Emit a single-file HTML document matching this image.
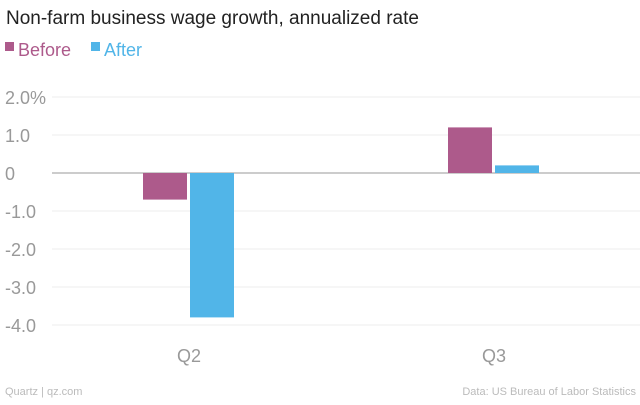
<!DOCTYPE html>
<html><head><meta charset="utf-8"><style>
body{margin:0;background:#fff;font-family:"Liberation Sans",sans-serif;}
svg text{font-family:"Liberation Sans",sans-serif;}
</style></head><body>
<svg width="640" height="400" xmlns="http://www.w3.org/2000/svg">
<text x="6" y="24" font-size="19" fill="#222">Non-farm business wage growth, annualized rate</text>
<g>
<rect x="5" y="42" width="9" height="9" fill="#ad5a8b"/>
<text x="18" y="56" font-size="18" fill="#ad5a8b">Before</text>
<rect x="91" y="42" width="9" height="9" fill="#51b5e8"/>
<text x="104" y="56" font-size="18" fill="#51b5e8">After</text>
</g>
<g id="grid"></g><g id="bars"></g><g id="xlab"></g>
<text x="5" y="395" font-size="11" fill="#bbb">Quartz | qz.com</text>
<text x="636" y="395" font-size="11" fill="#bbb" text-anchor="end">Data: US Bureau of Labor Statistics</text>
</svg>
<script>
const categories=["Q2","Q3"];
const beforeValues=[-0.7,1.2];
const afterValues=[-3.8,0.2];
const tickValues=[2,1,0,-1,-2,-3,-4];
const tickLabels=["2.0%","1.0","0","-1.0","-2.0","-3.0","-4.0"];
const NS="http://www.w3.org/2000/svg";
const y=v=>173-v*38;
const bandStart=36.5,bandW=305;
const xc=i=>bandStart+bandW*(i+0.5);
function mk(t,a,p){const e=document.createElementNS(NS,t);for(const k in a)e.setAttribute(k,a[k]);p.appendChild(e);return e;}
const g=document.getElementById('grid');
tickValues.forEach((v,i)=>{
 const l=mk('line',{x1:52,x2:640,y1:y(v),y2:y(v),stroke:v===0?'#999':'#eee','stroke-width':1},g);
 
 
 const t=mk('text',{x:5,y:y(v)+7,'font-size':18,fill:'#999'},g);
 t.textContent=tickLabels[i];
 
 
});
const b=document.getElementById('bars');
categories.forEach((c,i)=>{
 [[beforeValues[i],'#ad5a8b',-46,'bar-before-'],[afterValues[i],'#51b5e8',1,'bar-after-']].forEach(([v,col,off,n])=>{
  const r=mk('rect',{x:xc(i)+off,y:Math.min(y(v),y(0)),width:44,height:Math.abs(y(v)-y(0)),fill:col},b);
  
  
 });
 const t=mk('text',{x:xc(i),y:362,'font-size':18,fill:'#999','text-anchor':'middle'},document.getElementById('xlab'));
 t.textContent=c;
 
 
});
</script>
</body></html>
